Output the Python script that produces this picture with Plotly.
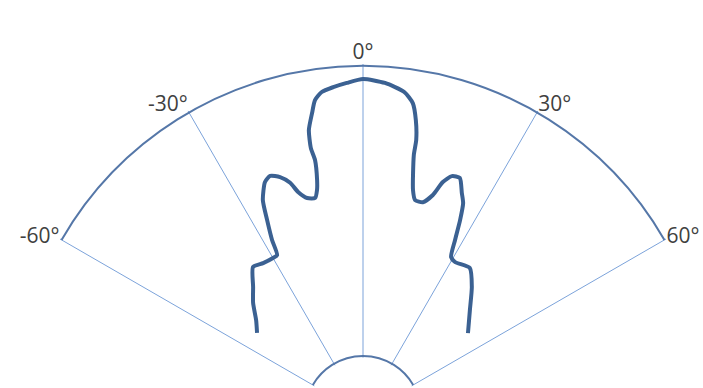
import plotly.graph_objects as go

# Angular positions (degrees, 0 = straight up, positive to the right)
theta_deg = [
    -52.6, -48.7, -44.7, -40.9, -36.8, -33.5, -30.0, -28.4, -27.6, -26.3,
    -25.1, -22.9, -21.3, -19.3, -17.5, -16.3, -14.5, -12.5, -11.6, -11.1,
    -10.7, -11.1, -10.8, -9.6, -8.7, -7.3, -5.2, -2.8, 0.0,
    3.8, 7.3, 9.1, 10.2, 11.0, 11.1, 12.6, 13.7, 15.8, 17.7,
    19.0, 20.5, 22.3, 24.1, 25.4, 26.6, 27.9, 29.3, 31.2, 36.2,
    40.6, 45.8, 52.4,
]

# Relative intensity at each angle
intensity = [
    25.4, 28.4, 33.1, 37.0, 42.3, 41.4, 41.1, 41.3, 46.6, 53.4,
    60.0, 65.3, 66.5, 65.0, 62.1, 58.4, 55.6, 55.0, 57.5, 60.8,
    67.5, 71.7, 77.8, 83.3, 87.4, 89.8, 91.0, 92.1, 93.3,
    92.2, 89.8, 86.5, 81.0, 74.4, 69.4, 57.7, 54.6, 54.6, 57.9,
    63.1, 66.0, 66.4, 62.0, 59.1, 53.5, 46.7, 41.1, 40.3, 41.4,
    36.8, 30.7, 25.1,
]

angle_ticks = [-60, -30, 0, 30, 60]
angle_labels = ["-60°", "-30°", "0°", "30°", "60°"]

# radial scale: inner and outer boundary arcs are drawn as radial grid circles
r_min, r_max = -0.6, 98.32
boundary_arcs = [0.0, 97.72]

fig = go.Figure()
fig.add_trace(go.Scatterpolar(
    r=intensity,
    theta=theta_deg,
    mode="lines",
    line=dict(color="#3b6192", width=4, shape="spline", smoothing=0.6),
    hoverinfo="skip",
    showlegend=False,
))

fig.update_layout(
    width=703,
    height=414,
    autosize=False,
    margin=dict(l=60, r=37, t=64, b=0, pad=0),
    paper_bgcolor="white",
    plot_bgcolor="white",
    font=dict(family="Open Sans, Noto Sans, sans-serif", size=21, color="#404040"),
    polar=dict(
        bgcolor="white",
        sector=[30, 150],
        hole=56.2 / 350,
        domain=dict(x=[0, 1], y=[0, 1]),
        angularaxis=dict(
            rotation=90,
            direction="clockwise",
            thetaunit="degrees",
            tickmode="array",
            tickvals=angle_ticks,
            ticktext=angle_labels,
            showgrid=True,
            gridcolor="#7ca3da",
            gridwidth=1.2,
            showline=False,
            ticks="",
            layer="below traces",
        ),
        radialaxis=dict(
            range=[r_min, r_max],
            tickmode="array",
            tickvals=boundary_arcs,
            showticklabels=False,
            ticks="",
            showline=False,
            showgrid=True,
            gridcolor="#5577a8",
            gridwidth=1.5,
            layer="below traces",
        ),
    ),
)

fig.write_html(
    "out.html",
    post_script="document.documentElement.style.overflow='hidden';"
                "document.body.style.overflow='hidden';",
)
